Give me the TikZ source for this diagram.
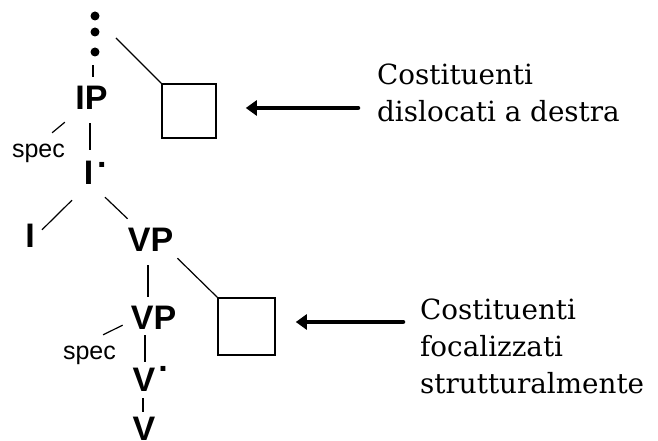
\documentclass[tikz,border=0pt]{standalone}
\usepackage{fontspec}
\usetikzlibrary{arrows.meta}
\newfontfamily\treefont{Liberation Sans}
\newfontfamily\glossfont{DejaVu Serif}

\tikzset{
  catlabel/.style={font={\treefont\bfseries\fontsize{34pt}{34pt}\selectfont},
    text height=25pt, text depth=0pt, inner sep=0pt, anchor=base},
  speclabel/.style={font={\treefont\fontsize{25pt}{25pt}\selectfont},
    text height=16pt, text depth=0pt, inner sep=0pt, anchor=base},
  gloss/.style={font={\glossfont\fontsize{27.8pt}{37pt}\selectfont},
    align=left, inner sep=0pt, anchor=base west},
  vdot/.style={circle, fill=black, inner sep=0pt, minimum size=9pt},
  slot/.style={draw=black, line width=1.6pt, inner sep=0pt},
  branch/.style={line width=1.2pt},
  pointer/.style={line width=4.5pt, line cap=round, -{Triangle[length=11pt,width=15pt]}},
}

\begin{document}
\begin{tikzpicture}[x=1pt,y=1pt]
	\useasboundingbox (0,0) rectangle (658,441);
	
	% dots above IP
	\node [vdot] (d1) at (95,425) {};
	\node [vdot] (d2) at (95,409) {};
	\node [vdot] (d3) at (95,389) {};
	
	% tree labels
	\node [catlabel] (IP) at (91.5,331) {IP};
	\node [speclabel] (spec1) at (38.5,283) {spec};
	\node [catlabel] (Ibar) at (88.5,256) {I\rlap{\kern4pt\raisebox{17pt}{.}}};
	\node [catlabel] (I) at (30,193) {I};
	\node [catlabel] (VPa) at (150.5,189) {VP};
	\node [catlabel] (VPb) at (153.5,111) {VP};
	\node [speclabel] (spec2) at (89.5,81) {spec};
	\node [catlabel] (Vbar) at (144,49) {V\rlap{\kern3pt\raisebox{20pt}{.}}};
	\node [catlabel] (V) at (144,0.5) {V};
	
	% empty positions
	\node [slot, minimum size=54pt] (box1) at (189,330) {};
	\node [slot, minimum size=57pt] (box2) at (246.5,114.5) {};
	
	% glosses (base = last line)
	\node [gloss] (text1) at (377,319) {Costituenti\\dislocati a destra};
	\node [gloss] (text2) at (420,47) {Costituenti\\focalizzati\\strutturalmente};
	
	% branches
	\draw [branch] ([xshift=-2pt,yshift=-8.5pt]d3.south) -- ([xshift=1.5pt,yshift=8pt]IP.north);
	\draw [branch] ([xshift=21pt,yshift=-6pt]d2.center) -- (box1.north west);
	\draw [branch] ([xshift=-13pt,yshift=9pt]spec1.north east) -- ([xshift=-10.4pt,yshift=-12pt]IP.south west);
	\draw [branch] ([xshift=-1.5pt,yshift=-13pt]IP.south) -- ([xshift=1.5pt,yshift=10pt]Ibar.north);
	\draw [branch] ([xshift=-16.5pt,yshift=-15pt]Ibar.south) -- ([xshift=12pt,yshift=-7pt]I.north);
	\draw [branch] ([xshift=16.5pt,yshift=-12pt]Ibar.south) -- ([yshift=8pt]VPa.north west);
	\draw [branch] ([xshift=-2.5pt,yshift=-13pt]VPa.south) -- ([xshift=-5.5pt,yshift=8pt]VPb.north);
	\draw [branch] ([xshift=4pt,yshift=-6pt]VPa.south east) -- (box2.north west);
	\draw [branch] ([xshift=-13pt,yshift=9pt]spec2.north east) -- ([xshift=-8pt,yshift=5pt]VPb.south west);
	\draw [branch] ([xshift=-8.5pt,yshift=-5pt]VPb.south) -- ([xshift=1pt,yshift=5pt]Vbar.north);
	\draw [branch] ([xshift=-1pt,yshift=-6pt]Vbar.south) -- ([xshift=-1pt,yshift=3pt]V.north);
	
	% arrows to the empty positions
	\coordinate (tip1) at ([xshift=29pt,yshift=3pt]box1.east);
	\draw [pointer, shorten <=19pt] (tip1 -| text1.west) -- (tip1);
	\coordinate (tip2) at ([xshift=20pt,yshift=4.5pt]box2.east);
	\draw [pointer, shorten <=17pt] (tip2 -| text2.west) -- (tip2);
	
\end{tikzpicture}
\end{document}
